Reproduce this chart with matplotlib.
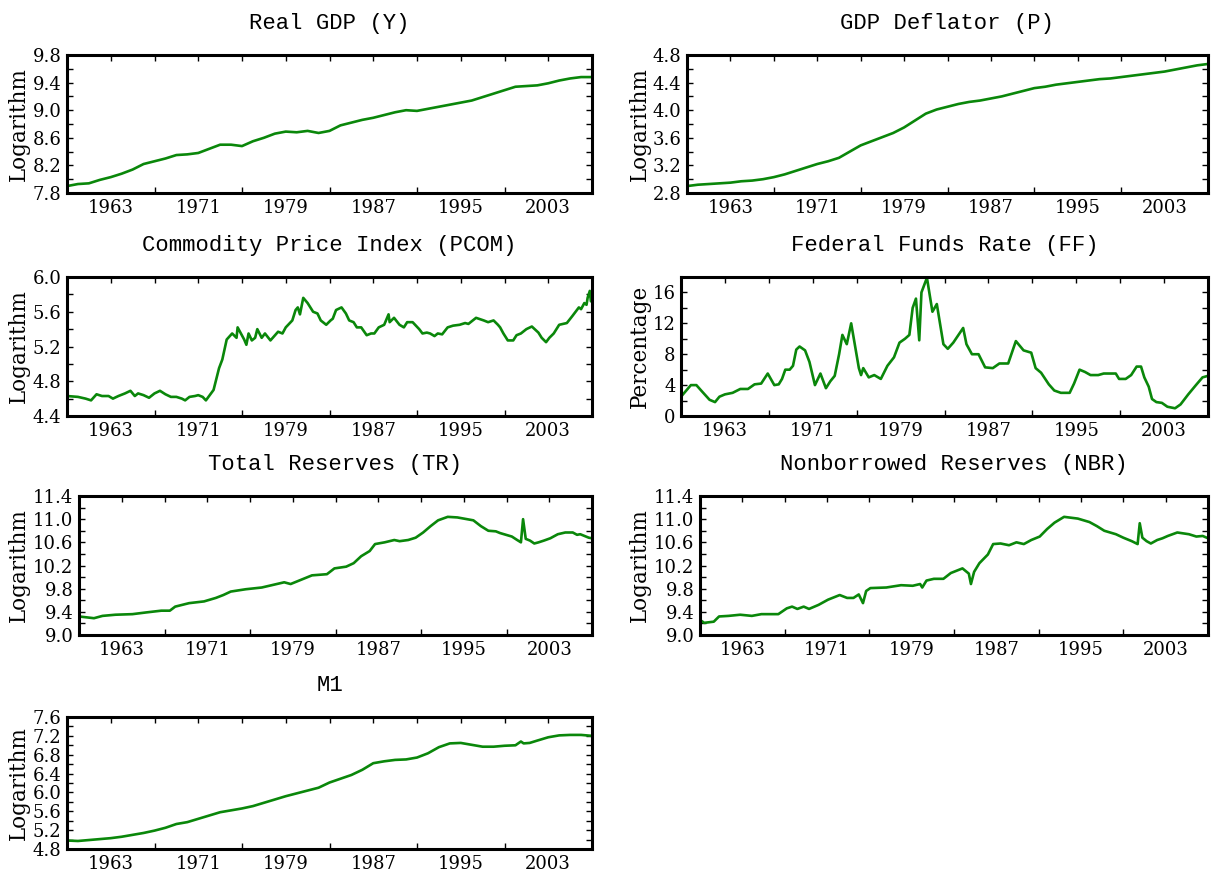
import matplotlib.pyplot as plt
import numpy as np
from matplotlib.ticker import MultipleLocator, FormatStrFormatter

# ---- data ----
annual_years = list(range(1959, 2008))

gdp = [7.90, 7.93, 7.94, 7.99, 8.03, 8.08, 8.14, 8.22, 8.26, 8.30,
       8.35, 8.36, 8.38, 8.44, 8.50, 8.50, 8.48, 8.55, 8.60, 8.66,
       8.69, 8.68, 8.70, 8.67, 8.70, 8.78, 8.82, 8.86, 8.89, 8.93,
       8.97, 9.00, 8.99, 9.02, 9.05, 9.08, 9.11, 9.14, 9.19, 9.24,
       9.29, 9.34, 9.35, 9.36, 9.39, 9.43, 9.46, 9.48, 9.48]

deflator = [2.90, 2.92, 2.93, 2.94, 2.95, 2.97, 2.98, 3.00, 3.03, 3.07,
            3.12, 3.17, 3.22, 3.26, 3.31, 3.40, 3.49, 3.55, 3.61, 3.67,
            3.75, 3.85, 3.95, 4.01, 4.05, 4.09, 4.12, 4.14, 4.17, 4.20,
            4.24, 4.28, 4.32, 4.34, 4.37, 4.39, 4.41, 4.43, 4.45, 4.46,
            4.48, 4.50, 4.52, 4.54, 4.56, 4.59, 4.62, 4.65, 4.67]

pcom_years = [1959.0, 1960.0, 1960.7, 1961.2, 1961.7, 1962.2, 1962.8, 1963.2, 1963.7,
              1964.3, 1964.8, 1965.2, 1965.5, 1966.0, 1966.5, 1967.0, 1967.5, 1968.0,
              1968.5, 1969.0, 1969.5, 1969.8, 1970.2, 1970.7, 1971.0, 1971.4, 1971.7,
              1972.4, 1972.9, 1973.2, 1973.6, 1974.1, 1974.5, 1974.6, 1975.2, 1975.4,
              1975.6, 1975.9, 1976.2, 1976.4, 1976.8, 1977.1, 1977.6, 1978.3, 1978.7,
              1979.0, 1979.6, 1979.9, 1980.1, 1980.3, 1980.6, 1981.0, 1981.5, 1981.9,
              1982.2, 1982.7, 1983.1, 1983.3, 1983.6, 1984.1, 1984.5, 1984.8, 1985.2,
              1985.5, 1985.9, 1986.4, 1986.8, 1987.1, 1987.5, 1988.0, 1988.4, 1988.5,
              1988.9, 1989.4, 1989.8, 1990.1, 1990.6, 1991.2, 1991.5, 1991.9, 1992.2,
              1992.6, 1992.9, 1993.3, 1993.8, 1994.3, 1994.9, 1995.4, 1995.7, 1996.1,
              1996.4, 1997.1, 1997.5, 1998.0, 1998.4, 1998.6, 1998.9, 1999.3, 1999.8,
              2000.1, 2000.5, 2001.0, 2001.5, 2002.1, 2002.4, 2002.8, 2003.1, 2003.5,
              2004.0, 2004.7, 2005.2, 2005.8, 2006.0, 2006.3, 2006.5, 2006.6, 2006.8,
              2006.9, 2007.0]
pcom = [4.63, 4.62, 4.60, 4.58, 4.65, 4.63, 4.63, 4.60, 4.63,
        4.66, 4.69, 4.63, 4.66, 4.64, 4.61, 4.66, 4.69, 4.65,
        4.62, 4.62, 4.60, 4.58, 4.62, 4.63, 4.64, 4.62, 4.58,
        4.70, 4.95, 5.05, 5.28, 5.35, 5.30, 5.42, 5.28, 5.22,
        5.35, 5.27, 5.30, 5.40, 5.30, 5.35, 5.27, 5.37, 5.35,
        5.42, 5.50, 5.62, 5.65, 5.57, 5.76, 5.70, 5.60, 5.58,
        5.50, 5.45, 5.50, 5.52, 5.62, 5.65, 5.58, 5.50, 5.48,
        5.42, 5.42, 5.33, 5.35, 5.35, 5.42, 5.45, 5.57, 5.48,
        5.53, 5.45, 5.42, 5.48, 5.48, 5.40, 5.35, 5.36, 5.35,
        5.32, 5.35, 5.34, 5.42, 5.44, 5.45, 5.47, 5.46, 5.50,
        5.53, 5.50, 5.48, 5.50, 5.45, 5.42, 5.35, 5.27, 5.27,
        5.33, 5.35, 5.40, 5.43, 5.36, 5.30, 5.25, 5.30, 5.35,
        5.45, 5.47, 5.55, 5.65, 5.63, 5.70, 5.68, 5.76, 5.84,
        5.72, 5.72]

ff_years = [1959.0, 1959.9, 1960.4, 1960.9, 1961.6, 1962.1, 1962.5, 1963.0, 1963.7,
            1964.4, 1965.1, 1965.7, 1966.3, 1966.9, 1967.5, 1967.9, 1968.2, 1968.5,
            1968.9, 1969.2, 1969.5, 1969.8, 1970.3, 1970.7, 1971.2, 1971.7, 1972.2,
            1972.6, 1973.0, 1973.4, 1973.7, 1974.1, 1974.5, 1975.2, 1975.4, 1975.6,
            1976.1, 1976.6, 1977.2, 1977.8, 1978.4, 1978.9, 1979.4, 1979.8, 1980.1,
            1980.4, 1980.7, 1980.9, 1981.4, 1981.9, 1982.3, 1982.9, 1983.3, 1983.8,
            1984.7, 1985.0, 1985.5, 1986.1, 1986.7, 1987.4, 1988.0, 1988.8, 1989.5,
            1990.2, 1990.9, 1991.3, 1991.8, 1992.5, 1993.0, 1993.6, 1994.4, 1994.8,
            1995.3, 1995.8, 1996.3, 1997.0, 1997.5, 1998.6, 1998.9, 1999.5, 2000.0,
            2000.5, 2000.9, 2001.2, 2001.6, 2001.9, 2002.3, 2002.8, 2003.3, 2004.0,
            2004.5, 2005.2, 2005.9, 2006.5, 2007.0]
ff = [2.5, 4.0, 4.0, 3.2, 2.1, 1.8, 2.5, 2.8, 3.0,
      3.5, 3.5, 4.1, 4.2, 5.5, 4.0, 4.1, 4.8, 6.0,
      6.0, 6.5, 8.6, 9.0, 8.5, 7.0, 4.0, 5.5, 3.6,
      4.5, 5.2, 8.0, 10.5, 9.3, 12.0, 6.2, 5.3, 6.2,
      5.0, 5.3, 4.8, 6.5, 7.6, 9.5, 10.0, 10.5, 14.0,
      15.2, 9.8, 16.0, 17.9, 13.5, 14.5, 9.3, 8.7, 9.5,
      11.4, 9.3, 8.0, 8.0, 6.3, 6.2, 6.8, 6.8, 9.7,
      8.5, 8.2, 6.2, 5.6, 4.1, 3.3, 3.0, 3.0, 4.2,
      6.0, 5.7, 5.3, 5.3, 5.5, 5.5, 4.8, 4.8, 5.3,
      6.4, 6.4, 5.0, 3.8, 2.2, 1.8, 1.7, 1.2, 1.0,
      1.5, 2.8, 4.0, 5.0, 5.2]

tr_years = [1959.0, 1960.4, 1961.2, 1962.4, 1964.0, 1965.3, 1966.7, 1967.5, 1968.0,
            1969.3, 1970.7, 1971.8, 1972.5, 1973.2, 1974.6, 1976.1, 1976.8, 1978.2,
            1978.8, 1980.0, 1980.8, 1982.2, 1982.9, 1984.0, 1984.7, 1985.4, 1986.2,
            1986.7, 1987.6, 1988.5, 1989.0, 1989.8, 1990.5, 1991.2, 1991.9, 1992.6,
            1993.5, 1994.4, 1995.3, 1995.9, 1996.6, 1997.3, 1998.0, 1998.4, 1999.5,
            2000.0, 2000.35, 2000.55, 2000.8, 2001.2, 2001.6, 2002.0, 2002.5, 2003.1,
            2003.8, 2004.5, 2005.2, 2005.6, 2005.9, 2006.7, 2007.0]
tr = [9.32, 9.29, 9.33, 9.35, 9.36, 9.39, 9.42, 9.42, 9.49,
      9.55, 9.58, 9.64, 9.69, 9.75, 9.79, 9.82, 9.85, 9.91,
      9.88, 9.97, 10.03, 10.05, 10.15, 10.18, 10.24, 10.36, 10.45,
      10.57, 10.60, 10.64, 10.62, 10.64, 10.68, 10.77, 10.88, 10.98,
      11.04, 11.03, 11.00, 10.98, 10.88, 10.80, 10.79, 10.76, 10.70,
      10.64, 10.60, 11.00, 10.66, 10.63, 10.58, 10.60, 10.63, 10.67,
      10.74, 10.77, 10.77, 10.73, 10.74, 10.68, 10.67]

nbr_years = [1959.0, 1959.4, 1960.3, 1960.8, 1961.7, 1962.8, 1963.9, 1964.8, 1965.7,
             1966.4, 1967.2, 1967.7, 1968.2, 1968.8, 1969.3, 1970.2, 1971.1, 1972.2,
             1972.9, 1973.5, 1974.0, 1974.4, 1974.7, 1975.1, 1976.6, 1978.0, 1979.1,
             1979.8, 1980.0, 1980.4, 1981.1, 1982.0, 1982.7, 1983.8, 1984.4, 1984.6,
             1984.9, 1985.4, 1986.2, 1986.7, 1987.4, 1988.2, 1988.9, 1989.6, 1990.3,
             1991.1, 1991.8, 1992.5, 1993.4, 1994.7, 1995.8, 1996.5, 1997.2, 1998.3,
             1999.0, 1999.8, 2000.35, 2000.55, 2000.8, 2001.2, 2001.6, 2002.2, 2002.7,
             2003.2, 2004.1, 2005.2, 2005.9, 2006.5, 2007.0]
nbr = [9.26, 9.21, 9.23, 9.32, 9.33, 9.35, 9.33, 9.36, 9.36,
       9.36, 9.46, 9.49, 9.45, 9.49, 9.45, 9.52, 9.61, 9.69,
       9.64, 9.64, 9.70, 9.55, 9.76, 9.81, 9.82, 9.86, 9.85,
       9.88, 9.82, 9.94, 9.97, 9.97, 10.07, 10.15, 10.06, 9.88,
       10.09, 10.24, 10.39, 10.57, 10.58, 10.55, 10.60, 10.57, 10.64,
       10.70, 10.83, 10.94, 11.04, 11.01, 10.95, 10.88, 10.80, 10.74,
       10.68, 10.62, 10.57, 10.93, 10.68, 10.62, 10.58, 10.64, 10.67,
       10.71, 10.77, 10.74, 10.70, 10.71, 10.67]

m1_years = annual_years[:42] + [2000.5, 2000.75, 2001.3, 2002, 2003, 2004, 2005, 2006, 2007]
m1 = [4.98, 4.97, 4.99, 5.01, 5.03, 5.06, 5.10, 5.14, 5.19, 5.25,
      5.33, 5.37, 5.44, 5.51, 5.58, 5.62, 5.66, 5.71, 5.78, 5.85,
      5.92, 5.98, 6.04, 6.10, 6.21, 6.29, 6.37, 6.48, 6.62, 6.66,
      6.69, 6.70, 6.74, 6.83, 6.96, 7.04, 7.05, 7.01, 6.97, 6.97,
      6.99, 7.00, 7.08, 7.04, 7.05, 7.10, 7.17, 7.21, 7.22, 7.22, 7.20]

W, H = 1212, 871
GREEN = '#0a870a'
plt.rcParams['font.family'] = 'DejaVu Serif'

fig = plt.figure(figsize=(W / 100, H / 100), dpi=100)


def panel(rect, title, ylabel, x, y, ylim, ystep, fmt, label_x):
    l, t, r, b = rect
    ax = fig.add_axes([l / W, 1 - b / H, (r - l) / W, (b - t) / H])
    ax.plot(x, y, color=GREEN, lw=1.9)
    ax.set_xlim(1959, 2007)
    ax.set_ylim(*ylim)
    ax.set_xticks(np.arange(1963, 2004, 8))
    ax.set_xticks(np.arange(1967, 2007, 8), minor=True)
    ax.set_yticks(np.arange(ylim[0], ylim[1] + 1e-6, ystep))
    ax.yaxis.set_minor_locator(MultipleLocator(ystep / 2))
    ax.yaxis.set_major_formatter(FormatStrFormatter(fmt))
    ax.tick_params(which='both', direction='in', top=True, right=True,
                   length=4, width=1, labelsize=13, pad=4)
    ax.tick_params(axis='x', which='major', bottom=False)
    for s in ax.spines.values():
        s.set_linewidth(2.2)
    ax.set_title(title, family='Liberation Mono', fontsize=16, pad=19)
    ax.set_ylabel(ylabel, fontsize=15.5)
    ax.yaxis.set_label_coords((label_x - l) / (r - l), 0.5)
    return ax


panel((67, 55, 592, 193), 'Real GDP (Y)', 'Logarithm',
      annual_years, gdp, (7.8, 9.8), 0.4, '%.1f', 30)
panel((687, 55, 1208, 193), 'GDP Deflator (P)', 'Logarithm',
      annual_years, deflator, (2.8, 4.8), 0.4, '%.1f', 651)
panel((67, 277, 592, 416), 'Commodity Price Index (PCOM)', 'Logarithm',
      pcom_years, pcom, (4.4, 6.0), 0.4, '%.1f', 30)
panel((681, 277, 1208, 416), 'Federal Funds Rate (FF)', 'Percentage',
      ff_years, ff, (0, 18), 4, '%d', 651)
panel((79, 496, 592, 635), 'Total Reserves (TR)', 'Logarithm',
      tr_years, tr, (9.0, 11.4), 0.4, '%.1f', 30)
panel((700, 496, 1208, 635), 'Nonborrowed Reserves (NBR)', 'Logarithm',
      nbr_years, nbr, (9.0, 11.4), 0.4, '%.1f', 651)
panel((67, 717, 592, 849), 'M1', 'Logarithm',
      m1_years, m1, (4.8, 7.6), 0.4, '%.1f', 30)

fig.savefig('out.png', dpi=100)
